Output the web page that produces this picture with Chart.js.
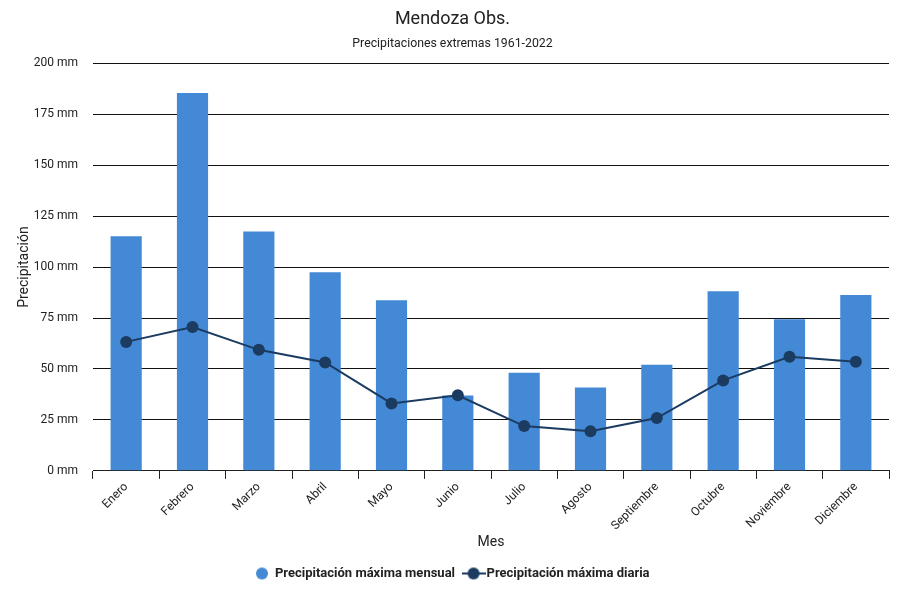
<!DOCTYPE html>
<html>
<head>
<meta charset="utf-8">
<script src="https://cdn.jsdelivr.net/npm/chart.js@4.4.0/dist/chart.umd.min.js"></script>
<style>
html,body{margin:0;padding:0;background:#fff;}
#wrap{width:900px;height:600px;position:relative;}
</style>
</head>
<body>
<div id="wrap"><canvas id="c" width="900" height="600"></canvas></div>
<script>
const months = ['Enero','Febrero','Marzo','Abril','Mayo','Junio','Julio','Agosto','Septiembre','Octubre','Noviembre','Diciembre'];
const maxMensual = [115.1, 185.4, 117.5, 97.5, 83.8, 37.0, 48.2, 40.9, 52.1, 88.1, 74.4, 86.3];
const maxDiaria = [63.3, 70.6, 59.4, 53.2, 33.1, 37.1, 22.0, 19.4, 25.9, 44.4, 56.0, 53.6];
const yTicks = [0, 25, 50, 75, 100, 125, 150, 175, 200];

const barColor = '#4389d6';
const lineColor = '#1b3b61';

function lineIcon() {
  const cv = document.createElement('canvas');
  cv.width = 24; cv.height = 14;
  const g = cv.getContext('2d');
  g.strokeStyle = lineColor; g.lineWidth = 2;
  g.beginPath(); g.moveTo(0, 7); g.lineTo(24, 7); g.stroke();
  g.fillStyle = lineColor;
  g.beginPath(); g.arc(12, 7, 6, 0, Math.PI * 2); g.fill();
  return cv;
}
function dotIcon() {
  const cv = document.createElement('canvas');
  cv.width = 14; cv.height = 14;
  const g = cv.getContext('2d');
  g.fillStyle = barColor;
  g.beginPath(); g.arc(7, 7, 6, 0, Math.PI * 2); g.fill();
  return cv;
}
const icons = [dotIcon(), lineIcon()];

Chart.defaults.font.family = 'Roboto, "Noto Sans", sans-serif';
Chart.defaults.color = '#222';

new Chart(document.getElementById('c'), {
  data: {
    labels: months,
    datasets: [
      {
        type: 'line',
        label: 'Precipitación máxima diaria',
        data: maxDiaria,
        borderColor: lineColor,
        backgroundColor: lineColor,
        borderWidth: 2,
        pointRadius: 6,
        pointHoverRadius: 6,
        pointBackgroundColor: lineColor,
        pointBorderWidth: 0,
        tension: 0,
        order: 0
      },
      {
        type: 'bar',
        label: 'Precipitación máxima mensual',
        data: maxMensual,
        backgroundColor: barColor,
        borderWidth: 0,
        barPercentage: 0.47,
        categoryPercentage: 1.0,
        order: 1
      }
    ]
  },
  options: {
    responsive: false,
    animation: false,
    devicePixelRatio: 1,
    layout: { padding: { left: 16, right: 11, top: 7, bottom: 10 } },
    plugins: {
      title: {
        display: true,
        text: 'Mendoza Obs.',
        font: { size: 18, weight: 'normal' },
        color: '#222',
        padding: { top: 2, bottom: 6 }
      },
      subtitle: {
        display: true,
        text: 'Precipitaciones extremas 1961-2022',
        font: { size: 12.3, weight: 'normal' },
        color: '#222',
        padding: { top: 0, bottom: 12 }
      },
      legend: {
        position: 'bottom',
        labels: {
          usePointStyle: true,
          font: { size: 13, weight: 'bold' },
          color: '#222',
          padding: 12,
          generateLabels(chart) {
            const order = [1, 0];
            return order.map(i => ({
              text: chart.data.datasets[i].label,
              datasetIndex: i,
              pointStyle: icons[i === 1 ? 0 : 1],
              fillStyle: chart.data.datasets[i].backgroundColor,
              strokeStyle: chart.data.datasets[i].backgroundColor,
              lineWidth: 0,
              hidden: !chart.isDatasetVisible(i),
              fontColor: '#222'
            }));
          }
        }
      },
      tooltip: { enabled: false }
    },
    scales: {
      x: {
        offset: true,
        grid: {
          display: true,
          drawOnChartArea: false,
          drawTicks: true,
          tickLength: 8,
          color: '#222',
          offset: true
        },
        border: { display: true, color: '#222', width: 1 },
        ticks: {
          maxRotation: 45,
          minRotation: 45,
          font: { size: 12 },
          color: '#222',
          padding: 1
        },
        title: {
          display: true,
          text: 'Mes',
          font: { size: 14 },
          color: '#222',
          padding: { top: 0, bottom: 4 }
        }
      },
      y: {
        min: 0,
        max: 200,
        afterBuildTicks(scale) { scale.ticks = yTicks.map(v => ({ value: v })); },
        afterFit(scale) { scale.width = 77; },
        grid: {
          color: '#111',
          lineWidth: 1,
          drawTicks: false
        },
        border: { display: false },
        ticks: {
          font: { size: 12 },
          color: '#222',
          padding: 15,
          callback: v => v + ' mm'
        },
        title: {
          display: true,
          text: 'Precipitación',
          font: { size: 14 },
          color: '#222',
          padding: { top: 0, bottom: 4 }
        }
      }
    }
  }
});
</script>
</body>
</html>
